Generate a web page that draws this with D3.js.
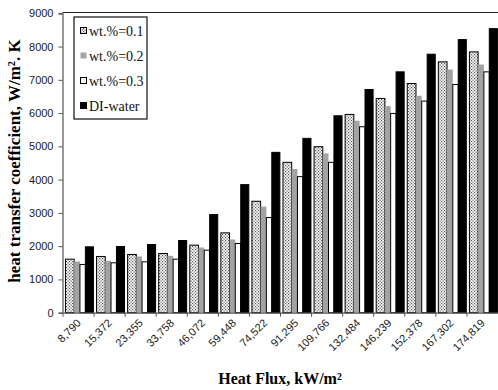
<!DOCTYPE html>
<html>
<head>
<meta charset="utf-8">
<script src="https://cdn.jsdelivr.net/npm/d3@7"></script>
<style>
body { margin: 0; background: #fff; }
svg { display: block; }
</style>
</head>
<body>
<div class="chart"></div>
<script>
var width = 498,
height = 390,
plotLeft = 62.5,
plotRight = 498,
plotTop = 12.5,
plotBottom = 312.7;

// Heat flux categories (kW/m2)
var categories = ["8,790", "15,372", "23,355", "33,758", "46,072", "59,448", "74,522",
	"91,295", "109,766", "132,484", "146,239", "152,378", "167,302", "174,819"];

// heat transfer coefficient, W/m2.K
var wt01 = [1610, 1690, 1750, 1780, 2030, 2400, 3350, 4520, 4990, 5960, 6440, 6890, 7540, 7840];
var wt02 = [1540, 1560, 1690, 1710, 1960, 2200, 3190, 4320, 4790, 5770, 6210, 6520, 7310, 7460];
var wt03 = [1450, 1500, 1530, 1610, 1880, 2080, 2860, 4090, 4520, 5590, 5990, 6360, 6860, 7240];
var water = [1980, 1990, 2050, 2170, 2950, 3850, 4820, 5240, 5920, 6710, 7240, 7770, 8210, 8540];

var seriesNames = ["wt.%=0.1", "wt.%=0.2", "wt.%=0.3", "DI-water"];
var yTicks = [0, 1000, 2000, 3000, 4000, 5000, 6000, 7000, 8000, 9000];

var series = [
	{name: seriesNames[0], values: wt01, fill: "url(#checker)", stroke: "#000", x0: 0.08, x1: 0.36},
	{name: seriesNames[1], values: wt02, fill: "#a3a3a3", stroke: "none", x0: 0.36, x1: 0.545},
	{name: seriesNames[2], values: wt03, fill: "#fff", stroke: "#000", x0: 0.545, x1: 0.72},
	{name: seriesNames[3], values: water, fill: "#000", stroke: "#000", x0: 0.72, x1: 0.98}
];

var svg = d3.select("div.chart")
	.append("svg")
	.attr("width", width)
	.attr("height", height);

var pat = svg.append("defs").append("pattern")
	.attr("id", "checker")
	.attr("width", 3)
	.attr("height", 3)
	.attr("patternUnits", "userSpaceOnUse");
pat.append("rect").attr("width", 3).attr("height", 3).attr("fill", "#fff");
pat.append("rect").attr("x", 0).attr("y", 0).attr("width", 1.2).attr("height", 1.2).attr("fill", "#555");
pat.append("rect").attr("x", 1.5).attr("y", 1.5).attr("width", 1.2).attr("height", 1.2).attr("fill", "#555");

var x = d3.scaleBand()
	.domain(categories)
	.range([plotLeft + 0.5, plotRight])
	.padding(0);

var y = d3.scaleLinear()
	.domain([0, 9000])
	.range([plotBottom, plotTop + 0.8]);

/*
========== bars ==========
*/
var bw = x.bandwidth();
series.forEach(function(s){
	svg.append("g")
		.selectAll("rect")
		.data(s.values)
		.enter()
		.append("rect")
		.attr("x", function(d, i){ return x(categories[i]) + bw * s.x0; })
		.attr("y", function(d){ return y(d); })
		.attr("width", bw * (s.x1 - s.x0))
		.attr("height", function(d){ return plotBottom - y(d); })
		.attr("fill", s.fill)
		.attr("stroke", s.stroke)
		.attr("stroke-width", 1);
});

/*
========== axes ==========
*/
svg.append("line")
	.attr("x1", plotLeft).attr("x2", plotRight)
	.attr("y1", plotTop).attr("y2", plotTop)
	.attr("stroke", "#222").attr("stroke-width", 1.2);

var yAxis = svg.append("g")
	.attr("transform", "translate(" + plotLeft + ",0)")
	.call(d3.axisLeft(y).tickValues(yTicks).tickSize(4).tickPadding(5).tickFormat(d3.format("d")));
yAxis.select(".domain").attr("stroke", "#555").attr("stroke-width", 1.2);
yAxis.selectAll(".tick line").attr("stroke", "#555");
yAxis.selectAll(".tick text")
	.attr("fill", "#1a1a1a")
	.style("font-family", "Liberation Sans, Arial, sans-serif")
	.style("font-size", "11px");

var xAxis = svg.append("g")
	.attr("transform", "translate(0," + plotBottom + ")")
	.call(d3.axisBottom(x).tickSize(0).tickFormat(""));
xAxis.select(".domain").attr("stroke", "#555").attr("stroke-width", 1.2);

svg.append("g")
	.selectAll("line")
	.data(categories)
	.enter()
	.append("line")
	.attr("x1", function(d){ return x(d); })
	.attr("x2", function(d){ return x(d); })
	.attr("y1", plotBottom)
	.attr("y2", plotBottom + 4)
	.attr("stroke", "#555");

svg.append("g")
	.selectAll("text")
	.data(categories)
	.enter()
	.append("text")
	.attr("transform", function(d){
		return "translate(" + (x(d) + bw / 2 + 3) + "," + (plotBottom + 11) + ") rotate(-45)";
	})
	.attr("text-anchor", "end")
	.attr("fill", "#1a1a1a")
	.style("font-family", "Liberation Sans, Arial, sans-serif")
	.style("font-size", "11px")
	.text(function(d){ return d; });

svg.append("text")
	.attr("transform", "translate(280,384)")
	.attr("text-anchor", "middle")
	.style("font-family", "Liberation Serif, Times New Roman, serif")
	.style("font-weight", "bold")
	.style("font-size", "16px")
	.text("Heat Flux, kW/m²");

svg.append("text")
	.attr("transform", "translate(20,161) rotate(-90)")
	.attr("text-anchor", "middle")
	.style("font-family", "Liberation Serif, Times New Roman, serif")
	.style("font-weight", "bold")
	.style("font-size", "17px")
	.text("heat transfer coefficient, W/m². K");

/*
========== legend ==========
*/
var legend = svg.append("g").attr("transform", "translate(74,17)");
legend.append("rect")
	.attr("width", 73).attr("height", 102)
	.attr("fill", "#fff").attr("stroke", "#111").attr("stroke-width", 1.2);

var item = legend.selectAll("g.item")
	.data(series)
	.enter()
	.append("g")
	.attr("class", "item")
	.attr("transform", function(d, i){ return "translate(6," + (14 + i * 25) + ")"; });

item.append("rect")
	.attr("x", 0.5).attr("y", -3.5)
	.attr("width", 6).attr("height", 6)
	.attr("fill", function(d){ return d.fill; })
	.attr("stroke", function(d){ return d.stroke; });

item.append("text")
	.attr("x", 9)
	.attr("y", 5)
	.style("font-family", "Liberation Serif, Times New Roman, serif")
	.style("font-size", "14px")
	.attr("fill", "#111")
	.text(function(d){ return d.name; });
</script>
</body>
</html>
